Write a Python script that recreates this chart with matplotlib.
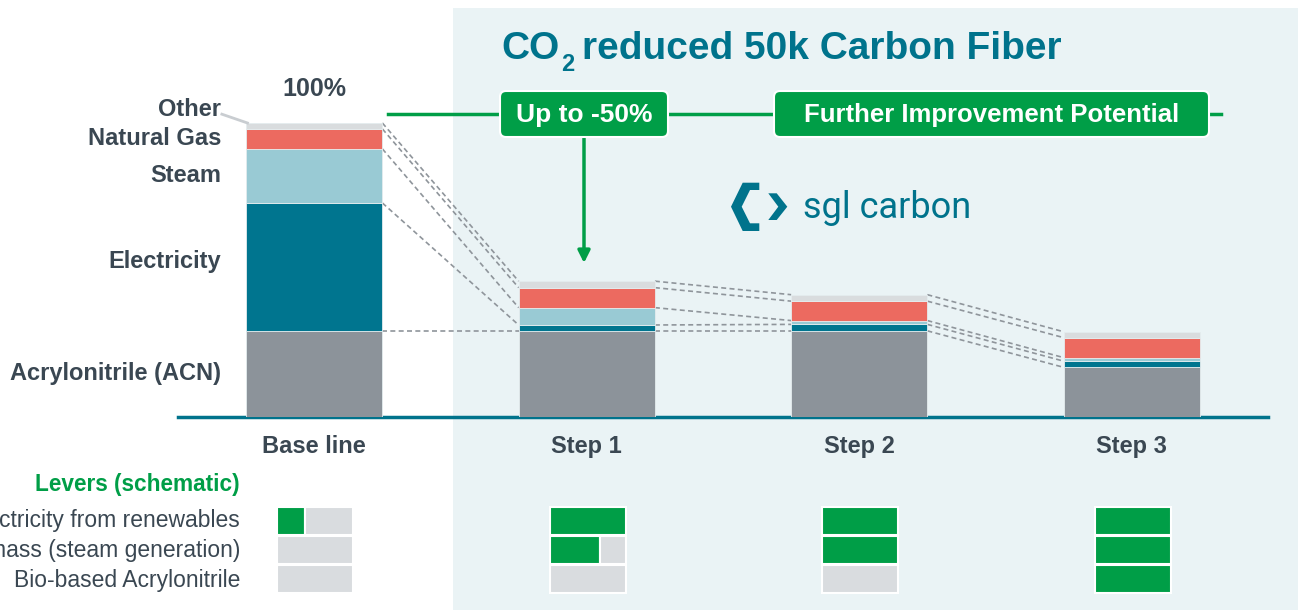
import matplotlib
matplotlib.use("Agg")
import matplotlib.pyplot as plt
from matplotlib.patches import Rectangle, FancyBboxPatch, Polygon

plt.rcParams['font.family'] = ['Liberation Sans', 'DejaVu Sans']

# data (share of base line CO2 footprint, %)
steps = ['Base line', 'Step 1', 'Step 2', 'Step 3']
segments = ['Acrylonitrile (ACN)', 'Electricity', 'Steam', 'Natural Gas', 'Other']
acn = [29.3, 29.3, 29.3, 16.9]
electricity = [43.5, 2.0, 2.2, 2.1]
steam = [18.4, 5.9, 1.3, 1.2]
natural_gas = [6.8, 6.8, 6.6, 6.8]
other = [2.0, 2.2, 2.2, 2.0]

# levers (schematic fill share per step)
lever_names = ['Electricity from renewables', 'Biomass (steam generation)', 'Bio-based Acrylonitrile']
renewables = [0.37, 1.0, 1.0, 1.0]
biomass = [0.0, 0.66, 1.0, 1.0]
bio_acn = [0.0, 0.0, 0.0, 1.0]

# colours
TEAL = '#00738C'
GREEN = '#009E47'
TEXT = '#3A4752'
PANEL = '#EAF3F5'
LEVER_GREY = '#D9DCDF'
seg_colors = ['#8C939A', '#00758F', '#99CAD4', '#EC6A60', '#D9DCDE']

W, H = 1298, 610
fig = plt.figure(figsize=(W / 100, H / 100), dpi=100)

# overlay in pixel coordinates for decoration
ov = fig.add_axes([0, 0, 1, 1], zorder=0)
ov.set_xlim(0, W)
ov.set_ylim(H, 0)
ov.axis('off')
ov.add_patch(Rectangle((453, 8), W - 453, H - 8, fc=PANEL, ec='none', zorder=0))

# main bar axes
px_per_pct = 2.94
ax = fig.add_axes([178 / W, (H - 417) / H, 1090 / W, 417 / H], zorder=2)
ax.patch.set_alpha(0)
ax.set_xlim(-0.5, 3.5)
ax.set_ylim(0, 417 / px_per_pct)

x = list(range(len(steps)))
series = [acn, electricity, steam, natural_gas, other]
bottoms = [0.0] * len(steps)
bounds = []
for vals, col in zip(series, seg_colors):
    ax.bar(x, vals, width=0.5, bottom=bottoms, color=col, edgecolor='#E4ECEE', linewidth=0.6, zorder=3)
    bottoms = [b + v for b, v in zip(bottoms, vals)]
    bounds.append(list(bottoms))

# dashed connectors between bars
for level in bounds:
    for i in range(len(steps) - 1):
        ax.plot([i + 0.25, i + 0.75], [level[i], level[i + 1]], ls=(0, (3, 2)),
                color='#8F959B', lw=1.2, zorder=2)

for s in ['top', 'left', 'right']:
    ax.spines[s].set_visible(False)
ax.spines['bottom'].set_color(TEAL)
ax.spines['bottom'].set_linewidth(2.5)
ax.set_yticks([])
ax.set_xticks(x)
ax.set_xticklabels(steps, fontsize=17, fontweight='bold', color=TEXT)
ax.tick_params(axis='x', length=0, pad=13)

# segment labels on the base line bar
lab_x = -0.342
prev = 0.0
for name, top in zip(segments, [b[0] for b in bounds]):
    if name == 'Other':
        ax.text(lab_x, top + 4.5, name, ha='right', va='center', fontsize=17,
                fontweight='bold', color=TEXT)
        ax.plot([lab_x + 0.003, -0.245], [top + 3.0, top], color='#C9CDD1', lw=2, zorder=4)
    else:
        mid = (prev + top) / 2
        if name == 'Electricity':
            mid += 2
        ax.text(lab_x, mid, name, ha='right', va='center', fontsize=17,
                fontweight='bold', color=TEXT)
    prev = top
ax.text(0, bounds[-1][0] + 11.5, '100%', ha='center', va='center', fontsize=18,
        fontweight='bold', color=TEXT)

# title with subscript
t1 = ov.text(501, 67, 'CO', fontsize=28, fontweight='bold', color=TEAL,
             va='bottom', ha='left')
t2 = ov.annotate('2', xy=(1, 0), xycoords=t1, xytext=(1.5, -6.5), textcoords='offset points',
                 fontsize=17, fontweight='bold', color=TEAL, va='bottom', ha='left')
ov.annotate('reduced 50k Carbon Fiber', xy=(1, 0), xycoords=(t2, t1), xytext=(5.5, 0),
            textcoords='offset points', fontsize=28, fontweight='bold', color=TEAL,
            va='bottom', ha='left')

# green bracket line and boxes
ov.plot([388, 1221], [114, 114], color=GREEN, lw=2.5, zorder=1)
for (bx, bw, label, fs) in [(500, 168, 'Up to -50%', 19), (774, 435, 'Further Improvement Potential', 18.5)]:
    ov.add_patch(FancyBboxPatch((bx, 91), bw, 46, boxstyle='round,pad=0,rounding_size=6',
                                fc=GREEN, ec='white', lw=1.5, zorder=3))
    ov.text(bx + bw / 2, 115, label, ha='center', va='center', fontsize=fs, fontweight='bold',
            color='white', zorder=4)
ov.annotate('', xy=(584, 263), xytext=(584, 137),
            arrowprops=dict(arrowstyle='-|>', color=GREEN, lw=2.5, mutation_scale=18,
                            shrinkA=0, shrinkB=0), zorder=2)

# sgl carbon logo
ov.add_patch(Polygon([(742.7, 182.7), (759.3, 182.7), (759.3, 190), (750, 190), (741.7, 206.7),
                      (750, 223.3), (759.3, 223.3), (759.3, 231), (742.7, 231), (731, 206.7)],
                     closed=True, fc=TEAL, ec='none'))
ov.add_patch(Polygon([(768.3, 193.3), (776.7, 193.3), (787.3, 206.7), (776.7, 220),
                      (768.3, 220), (778.3, 206.7)], closed=True, fc=TEAL, ec='none'))
ov.text(803, 218, 'sgl carbon', fontsize=26, color=TEAL, family='Roboto', va='baseline', ha='left')

# levers
ov.text(240, 485, 'Levers (schematic)', ha='right', va='center', fontsize=16.3, fontweight='bold',
        color=GREEN)
for k, name in enumerate(lever_names):
    ov.text(240, 521 + 30 * k, name, ha='right', va='center', fontsize=16.5, color=TEXT)

lax = fig.add_axes([178 / W, (H - 594) / H, 1090 / W, 88 / H], zorder=2)
lax.patch.set_alpha(0)
lax.set_xlim(-0.5, 3.5)
lax.set_ylim(2.5, -0.5)
lax.axis('off')
cw = 0.279
for row, shares in enumerate([renewables, biomass, bio_acn]):
    for i, f in enumerate(shares):
        left = i - cw / 2 + 0.003
        if f > 0:
            lax.barh(row, f * cw, left=left, height=0.95, color=GREEN, edgecolor='white', lw=1.5)
        if f < 1:
            lax.barh(row, (1 - f) * cw, left=left + f * cw, height=0.95, color=LEVER_GREY,
                     edgecolor='white', lw=1.5)

fig.savefig('out.png', dpi=100)
